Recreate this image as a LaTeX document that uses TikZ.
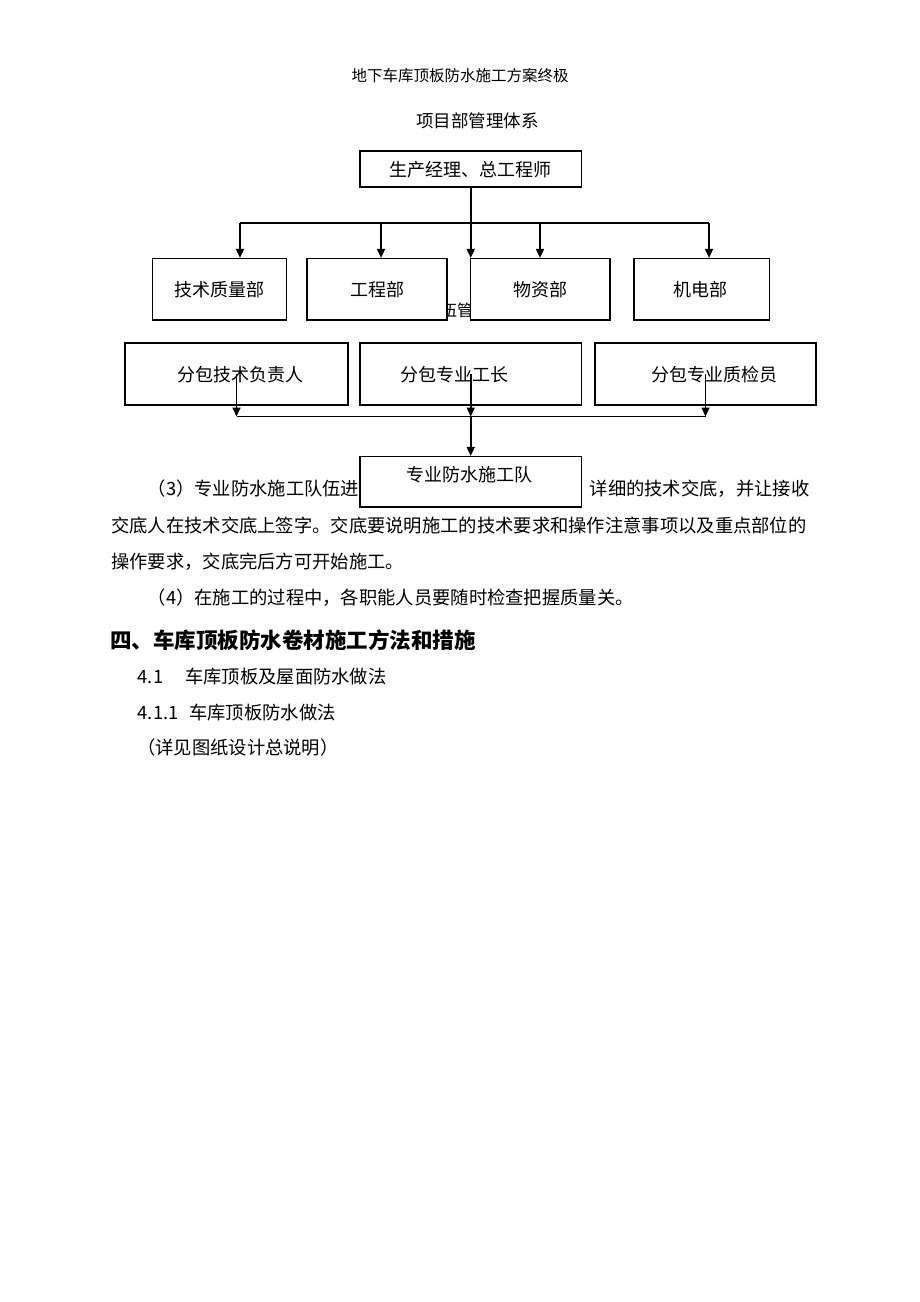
\documentclass[tikz,border=0pt]{standalone}
\usepackage{fontspec}
\newfontfamily\cjk{Noto Sans CJK SC}
\usetikzlibrary{arrows.meta}
\begin{document}
\begin{tikzpicture}[x=1pt,y=-1pt,
  box/.style={draw, line width=1.2pt, fill=white, inner sep=0pt},
  btxt/.style={inner sep=0pt, font=\cjk\fontsize{18}{20}\selectfont},
  body/.style={inner sep=0pt, anchor=west, font=\cjk\fontsize{18.3}{22}\selectfont},
  conn/.style={line width=1.7pt},
  arr/.style={line width=1.7pt, -{Triangle[length=9pt,width=8pt]}}
]
\useasboundingbox (0,0) rectangle (920,1302);
\fill[white] (0,0) rectangle (920,1302);

% headers
\node[inner sep=0pt, font=\cjk\fontsize{15.5}{18}\selectfont] (hdr) at (460,76) {地下车库顶板防水施工方案终极};
\node[inner sep=0pt, font=\cjk\fontsize{17.5}{20}\selectfont] (ttl) at (477.5,121) {项目部管理体系};

% partly hidden text behind boxes
\node[inner sep=0pt, anchor=west, font=\cjk\fontsize{16}{18}\selectfont] (hid) at (441,310) {伍管};

% boxes
\node[box, minimum width=221.5pt, minimum height=36pt] (top) at (470.75,169) {};
\node[box, minimum width=134pt, minimum height=61.5pt] (b1) at (219.6,289.25) {};
\node[box, minimum width=140pt, minimum height=61.5pt] (b2) at (377,289.25) {};
\node[box, minimum width=139.5pt, minimum height=61.5pt] (b3) at (540.25,289.25) {};
\node[box, minimum width=135.6pt, minimum height=61.5pt] (b4) at (701.8,289.25) {};
\node[box, minimum width=223pt, minimum height=62pt] (ra) at (236.5,374) {};
\node[box, minimum width=221.5pt, minimum height=62pt] (rb) at (470.75,374) {};
\node[box, minimum width=221pt, minimum height=62pt] (rc) at (705.5,374) {};

% body text line 1 (box D drawn over the middle)
\node[body] (l1a) at (147.6,489) {（3）专业防水施工队伍进};
\node[body, anchor=east] (l1b) at (809.5,489) {详细的技术交底，并让接收};
\node[box, minimum width=221.5pt, minimum height=50.5pt] (rd) at (470.75,481.75) {};

% box texts
\node[btxt] (ttop) at (470.5,170) {生产经理、总工程师};
\node[btxt] (t1) at (219.3,290) {技术质量部};
\node[btxt] (t2) at (377,290) {工程部};
\node[btxt] (t3) at (540,290) {物资部};
\node[btxt] (t4) at (700.6,290) {机电部};
\node[btxt] (ta) at (240.5,375) {分包技术负责人};
\node[btxt] (tb) at (454,375) {分包专业工长};
\node[btxt] (tc) at (714,375) {分包专业质检员};
\node[btxt] (td) at (469.6,475) {专业防水施工队};

% connectors top
\coordinate (j) at (470.75,223);
\coordinate (hl) at (240,223);
\coordinate (hr) at (709,223);
\coordinate (a2) at (381,223);
\coordinate (a3) at (540,223);
\draw[conn] (hl) -- (hr);
\draw[arr] (top.south) -- (j |- b3.north);
\draw[arr] (hl) -- (hl |- b1.north);
\draw[arr] (a2) -- (a2 |- b2.north);
\draw[arr] (a3) -- (a3 |- b3.north);
\draw[arr] (hr) -- (hr |- b4.north);

% connectors bottom
\coordinate (hb) at (470.75,416.5);
\draw[conn] (ra.center |- hb) -- (rc.center |- hb);
\draw[arr] (ra.center) -- (ra.center |- hb);
\draw[arr] (rc.center) -- (rc.center |- hb);
\draw[arr] (rb.center) -- (hb);
\draw[arr] (hb) -- (rd.north);

% body text
\node[body] (l2) at (111,526) {交底人在技术交底上签字。交底要说明施工的技术要求和操作注意事项以及重点部位的};
\node[body] (l3) at (111,562) {操作要求，交底完后方可开始施工。};
\node[body] (l4) at (147.6,598) {（4）在施工的过程中，各职能人员要随时检查把握质量关。};
\node[inner sep=0pt, anchor=west, font=\cjk\bfseries\fontsize{21.5}{24}\selectfont] (h4) at (110,640) {四、车库顶板防水卷材施工方法和措施};
\node[body] (s41a) at (137.6,677) {4.1};
\node[body] (s41b) at (185,677) {车库顶板及屋面防水做法};
\node[body] (s411a) at (137.6,713) {4.1.1};
\node[body] (s411b) at (189,713) {车库顶板防水做法};
\node[body] (note) at (137,748) {（详见图纸设计总说明）};
\end{tikzpicture}
\end{document}
